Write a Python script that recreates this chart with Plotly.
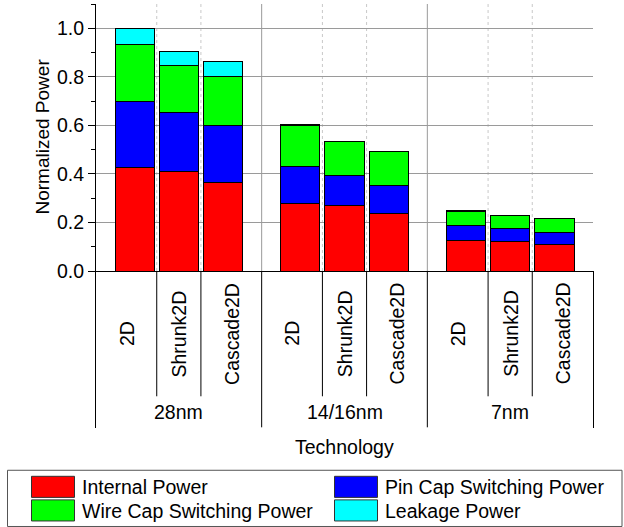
import plotly.graph_objects as go

# ---------------- data ----------------
technologies = ["28nm", "14/16nm", "7nm"]
designs = ["2D", "Shrunk2D", "Cascade2D"]
series_names = ["Internal Power", "Pin Cap Switching Power",
                "Wire Cap Switching Power", "Leakage Power"]
series_colors = ["#FF0000", "#0000FF", "#00FF00", "#00FFFF"]

# order: 28nm(2D, Shrunk2D, Cascade2D), 14/16nm(...), 7nm(...)
internal_power = [0.428, 0.412, 0.364, 0.278, 0.269, 0.237, 0.125, 0.120, 0.110]
pin_cap_power = [0.269, 0.242, 0.236, 0.152, 0.123, 0.115, 0.061, 0.054, 0.050]
wire_cap_power = [0.236, 0.194, 0.203, 0.170, 0.140, 0.139, 0.061, 0.054, 0.055]
leakage_power = [0.067, 0.058, 0.062, 0.002, 0.002, 0.003, 0.002, 0.001, 0.001]
series_values = [internal_power, pin_cap_power, wire_cap_power, leakage_power]

y_axis_title = "Normalized Power"
x_axis_title = "Technology"

# ---------------- geometry ----------------
W, H = 624, 527          # reference picture size (layout is designed in these pixels)
FIG_H = 540              # page height that the photographed window shows
FONT = "Liberation Sans, Arial, sans-serif"
FS = 19.5
GROUP_GAP = 0.75
n_d = len(designs)


def pxx(x):
    return x / W


def pxy(y):
    return 1 - y / H


positions = []
for g in range(len(technologies)):
    for i in range(n_d):
        positions.append(g * (n_d + GROUP_GAP) + i)

group_starts = [g * (n_d + GROUP_GAP) for g in range(len(technologies))]
half_group = (n_d - 1) / 2 + 0.5 + GROUP_GAP / 2  # 1.875
x_lo = group_starts[0] + (n_d - 1) / 2 - half_group
x_hi = group_starts[-1] + (n_d - 1) / 2 + half_group
x_range = [x_lo, x_hi]
y_range = [0, 1.1]

plot_left, plot_right, plot_top, plot_bottom, table_bottom = 96, 593, 4, 270, 426
xdom = [pxx(plot_left), pxx(plot_right)]
main_dom = [pxy(plot_bottom), pxy(plot_top)]
table_dom = [pxy(table_bottom), pxy(plot_bottom)]

fig = go.Figure()
for name, color, vals in zip(series_names, series_colors, series_values):
    fig.add_trace(go.Bar(
        x=positions, y=vals, name=name, width=0.89,
        marker=dict(color=color, line=dict(color="black", width=1)),
        xaxis="x", yaxis="y", showlegend=False,
    ))

shapes = []
group_bounds = [g0 + (n_d - 1) / 2 + half_group for g0 in group_starts[:-1]]
sub_bounds = [g0 + i + 0.5 for g0 in group_starts for i in range(n_d - 1)]
for xb in group_bounds:
    shapes.append(dict(type="line", xref="x", yref="y", x0=xb, x1=xb, y0=0, y1=y_range[1],
                       line=dict(color="#9a9a9a", width=1), layer="below"))
for xb in sub_bounds:
    shapes.append(dict(type="line", xref="x", yref="y", x0=xb, x1=xb, y0=0, y1=y_range[1],
                       line=dict(color="#c8c8c8", width=1, dash="dot"), layer="below"))
for xb in group_bounds:
    shapes.append(dict(type="line", xref="x2", yref="y3", x0=xb, x1=xb, y0=0, y1=1,
                       line=dict(color="black", width=1)))
for xb in sub_bounds:
    shapes.append(dict(type="line", xref="x2", yref="y3", x0=xb, x1=xb, y0=0.2, y1=1,
                       line=dict(color="black", width=1)))

annotations = []
for g, g0 in enumerate(group_starts):
    left = g0 + (n_d - 1) / 2 - half_group
    right = g0 + (n_d - 1) / 2 + half_group
    edges = [left] + [g0 + i + 0.5 for i in range(n_d - 1)] + [right]
    for i, d in enumerate(designs):
        annotations.append(dict(
            x=(edges[i] + edges[i + 1]) / 2, y=0.6, xref="x2", yref="y3",
            text=d, textangle=-90, showarrow=False,
            xanchor="center", yanchor="middle",
            font=dict(family=FONT, size=FS, color="black")))
    annotations.append(dict(
        x=g0 + (n_d - 1) / 2, y=0.1, xref="x2", yref="y3",
        text=technologies[g], showarrow=False, xanchor="center", yanchor="middle",
        font=dict(family=FONT, size=FS, color="black")))

annotations.append(dict(x=pxx((plot_left + plot_right) / 2), y=pxy(445), xref="paper", yref="paper",
                        text=x_axis_title, showarrow=False, xanchor="center", yanchor="middle",
                        font=dict(family=FONT, size=FS, color="black")))
annotations.append(dict(x=pxx(43), y=pxy(136), xref="paper", yref="paper",
                        text=y_axis_title, textangle=-90, showarrow=False,
                        xanchor="center", yanchor="middle",
                        font=dict(family=FONT, size=FS - 0.5, color="black")))

# manual legend
shapes.append(dict(type="rect", xref="paper", yref="paper",
                   x0=pxx(7.5), x1=pxx(622), y0=pxy(524.5), y1=pxy(468.5),
                   line=dict(color="#555555", width=1), fillcolor="white"))
legend_cols = [31.5, 334.5]
legend_rows = [474.5, 498]
legend_order = [(0, 0), (1, 0), (0, 1), (1, 1)]
for (col, row), name, color in zip(legend_order, series_names, series_colors):
    x0 = legend_cols[col]
    y0 = legend_rows[row]
    shapes.append(dict(type="rect", xref="paper", yref="paper",
                       x0=pxx(x0), x1=pxx(x0 + 43), y0=pxy(y0 + 21), y1=pxy(y0),
                       line=dict(color="#333333", width=1), fillcolor=color))
    annotations.append(dict(x=pxx(x0 + 48), y=pxy(y0 + 11), xref="paper", yref="paper",
                            text=name, showarrow=False, xanchor="left", yanchor="middle",
                            font=dict(family=FONT, size=FS, color="black")))

top_ticks = []
for g0 in group_starts:
    top_ticks += [g0 - 0.5, g0 + n_d - 0.5]

fig.update_layout(
    width=W, height=FIG_H,
    margin=dict(l=0, r=0, t=0, b=0),
    paper_bgcolor="white", plot_bgcolor="white",
    barmode="stack",
    font=dict(family=FONT, size=FS, color="black"),
    xaxis=dict(domain=xdom, anchor="y", range=x_range, showline=True, linecolor="black",
               linewidth=1, ticks="", showticklabels=False, showgrid=False, zeroline=False),
    xaxis3=dict(overlaying="x", side="top", anchor="y", range=x_range, showline=True,
                linecolor="black", linewidth=1, ticks="inside", ticklen=5, tickcolor="black",
                tickvals=top_ticks, showticklabels=False, showgrid=False, zeroline=False),
    yaxis=dict(domain=main_dom, anchor="x", range=y_range, showline=True, linecolor="black",
               linewidth=1, ticks="outside", ticklen=7, tickwidth=1, tickcolor="black",
               tick0=0, dtick=0.2, tickformat=".1f", showgrid=True, gridcolor="#9a9a9a",
               gridwidth=1, zeroline=False,
               tickfont=dict(family=FONT, size=FS, color="black"),
               minor=dict(ticks="outside", ticklen=4, tickcolor="black", dtick=0.1, showgrid=False)),
    yaxis2=dict(overlaying="y", side="right", anchor="x", range=y_range, showline=True,
                linecolor="black", linewidth=1, ticks="inside", ticklen=4, tickcolor="black",
                tick0=0, dtick=0.1, showticklabels=False, showgrid=False, zeroline=False),
    xaxis2=dict(domain=xdom, anchor="y3", range=x_range, showline=False, ticks="",
                showticklabels=False, showgrid=False, zeroline=False),
    yaxis3=dict(domain=table_dom, anchor="x2", range=[0, 1], showline=True, mirror=True,
                linecolor="black", linewidth=1, ticks="", showticklabels=False,
                showgrid=False, zeroline=False),
    shapes=shapes, annotations=annotations,
)

fig.write_html("out.html", config={"displayModeBar": False},
               post_script="document.body.style.margin='0';")
